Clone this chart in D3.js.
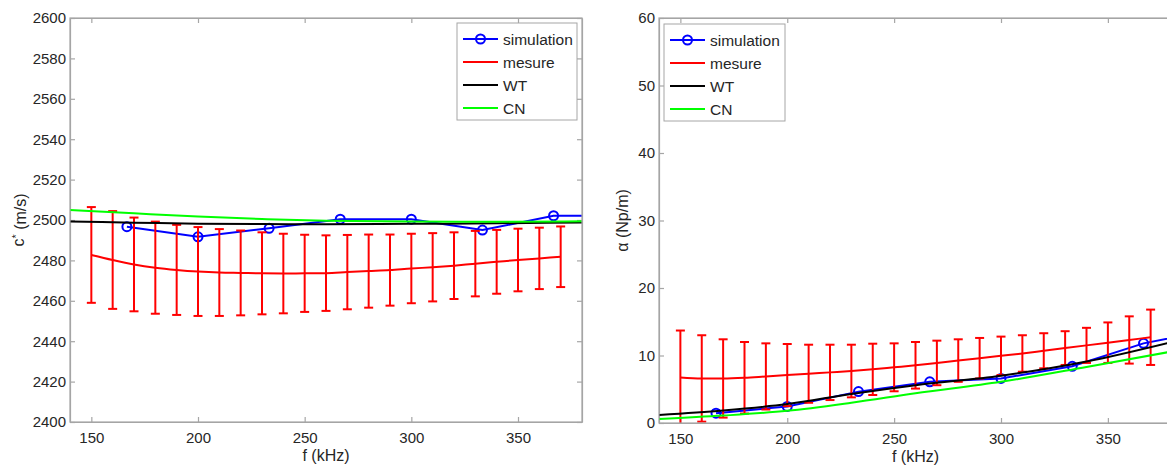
<!DOCTYPE html>
<html><head><meta charset="utf-8">
<script src="https://cdn.jsdelivr.net/npm/d3@7"></script>
<style>
body{margin:0;background:#fff;}
svg{display:block;font-family:"Liberation Sans",Arial,Helvetica,sans-serif;}
</style>
</head><body>
<svg id="chart" width="1167" height="468"></svg>
<script>
// ---------- data ----------
const legendLabels = ["simulation", "mesure", "WT", "CN"];

// simulation frequencies (kHz)
const simFreq = [166.67, 200, 233.33, 266.67, 300, 333.33, 366.67, 400];
const cSim     = [2496.7, 2491.7, 2495.9, 2500.4, 2500.4, 2495.0, 2502.1, 2502.1];
const alphaSim = [1.45, 2.45, 4.65, 6.1, 6.6, 8.4, 11.8, 13.9];

// measurement frequencies (kHz)
const measFreq = [150,160,170,180,190,200,210,220,230,240,250,260,270,280,290,300,310,320,330,340,350,360,370];
const cMeas    = [2482.7,2480.2,2478.0,2476.4,2475.3,2474.5,2474.0,2473.8,2473.6,2473.5,2473.6,2473.7,2474.2,2474.7,2475.2,2476.0,2476.6,2477.4,2478.4,2479.3,2480.2,2481.0,2481.8];
const cMeasErr = [23.7,24.2,23.2,22.8,22.3,22.0,21.5,21.0,20.3,19.7,19.1,18.7,18.4,18.1,17.6,17.2,16.9,16.5,16.2,15.8,15.5,15.2,15.0];
const alphaMeas    = [6.75,6.6,6.6,6.7,6.9,7.1,7.3,7.5,7.7,7.95,8.25,8.55,8.9,9.25,9.6,9.95,10.3,10.7,11.1,11.5,11.9,12.3,12.7];
const alphaMeasErr = [6.95,6.4,5.8,5.3,4.9,4.6,4.3,4.1,3.9,3.8,3.55,3.45,3.3,3.15,3.0,2.85,2.7,2.6,2.5,2.6,3.0,3.5,4.1];

// model curves
const modelFreq  = [140, 170, 200, 230, 260, 300, 340, 380];
const cWT        = [2499.2, 2498.7, 2498.2, 2498.0, 2497.9, 2498.1, 2498.4, 2498.8];
const cCN        = [2505.0, 2503.3, 2501.7, 2500.5, 2499.6, 2499.2, 2499.1, 2499.4];
const alphaWT    = [1.2, 1.85, 2.8, 4.3, 5.6, 7.0, 9.1, 12.0];
const alphaCN    = [0.6, 1.1, 1.8, 3.0, 4.4, 6.1, 8.3, 10.6];

// tick labels
const xTicks = [150, 200, 250, 300, 350];
const cTicks = [2400,2420,2440,2460,2480,2500,2520,2540,2560,2580,2600];
const alphaTicks = [0,10,20,30,40,50,60];

// ---------- drawing ----------
const svg = d3.select("#chart");
const colors = {sim:"#0000ff", meas:"#ff0000", wt:"#000000", cn:"#00ff00"};
const axisColor = "#a6a6a6";
const textColor = "#262626";
const fmt = d3.format("d");

function panel(cfg){
  const g = svg.append("g");
  const x = d3.scaleLinear().domain([140, 380]).range([cfg.left, cfg.right]);
  const y = d3.scaleLinear().domain(cfg.yDomain).range([cfg.bottom, cfg.top]);

  const clipId = "clip" + cfg.id;
  svg.append("defs").append("clipPath").attr("id", clipId)
    .append("rect").attr("x", cfg.left).attr("y", cfg.top)
    .attr("width", cfg.right - cfg.left).attr("height", cfg.bottom - cfg.top);

  // axes
  const styleAxis = sel => {
    sel.selectAll("path.domain").attr("stroke", axisColor).attr("stroke-width", 1.2);
    sel.selectAll(".tick line").attr("stroke", axisColor).attr("stroke-width", 1.2);
    sel.selectAll(".tick text").attr("fill", textColor).style("font-size", "15px")
       .style("font-family", '"Liberation Sans",Arial,sans-serif');
  };
  g.append("g").attr("transform", `translate(0,${cfg.bottom})`)
    .call(d3.axisBottom(x).tickValues(xTicks).tickFormat(fmt).tickSize(-5).tickSizeOuter(0).tickPadding(10))
    .call(styleAxis);
  g.append("g").attr("transform", `translate(0,${cfg.top})`)
    .call(d3.axisTop(x).tickValues(xTicks).tickSize(-5).tickSizeOuter(0).tickFormat(""))
    .call(styleAxis);
  g.append("g").attr("transform", `translate(${cfg.left},0)`)
    .call(d3.axisLeft(y).tickValues(cfg.yTicks).tickFormat(fmt).tickSize(-5).tickSizeOuter(0).tickPadding(4))
    .call(styleAxis);
  g.append("g").attr("transform", `translate(${cfg.right},0)`)
    .call(d3.axisRight(y).tickValues(cfg.yTicks).tickSize(-5).tickSizeOuter(0).tickFormat(""))
    .call(styleAxis);

  const plot = g.append("g").attr("clip-path", `url(#${clipId})`);

  // simulation
  const simData = simFreq.map((f,i)=>({f, v: cfg.sim[i]}));
  plot.append("path").datum(simData)
    .attr("fill","none").attr("stroke",colors.sim).attr("stroke-width",2)
    .attr("d", d3.line().x(d=>x(d.f)).y(d=>y(d.v)));
  plot.selectAll("circle.sim").data(simData).join("circle")
    .attr("class","sim").attr("cx",d=>x(d.f)).attr("cy",d=>y(d.v)).attr("r",4.5)
    .attr("fill","none").attr("stroke",colors.sim).attr("stroke-width",2);

  // measurement with error bars
  const measData = measFreq.map((f,i)=>({f, v: cfg.meas[i], e: cfg.measErr[i]}));
  plot.append("path").datum(measData)
    .attr("fill","none").attr("stroke",colors.meas).attr("stroke-width",2)
    .attr("d", d3.line().curve(d3.curveMonotoneX).x(d=>x(d.f)).y(d=>y(d.v)));
  const eb = plot.append("g").attr("stroke",colors.meas).attr("stroke-width",2).attr("fill","none");
  measData.forEach(d=>{
    const cx = x(d.f), yt = y(d.v + d.e), yb = y(d.v - d.e);
    eb.append("line").attr("x1",cx).attr("x2",cx).attr("y1",yt).attr("y2",yb);
    eb.append("line").attr("x1",cx-4.5).attr("x2",cx+4.5).attr("y1",yt).attr("y2",yt);
    eb.append("line").attr("x1",cx-4.5).attr("x2",cx+4.5).attr("y1",yb).attr("y2",yb);
  });

  // models
  const lineM = d3.line().curve(d3.curveMonotoneX).x(d=>x(d.f)).y(d=>y(d.v));
  plot.append("path").datum(modelFreq.map((f,i)=>({f, v: cfg.wt[i]})))
    .attr("fill","none").attr("stroke",colors.wt).attr("stroke-width",2).attr("d", lineM);
  plot.append("path").datum(modelFreq.map((f,i)=>({f, v: cfg.cn[i]})))
    .attr("fill","none").attr("stroke",colors.cn).attr("stroke-width",2).attr("d", lineM);

  // frame
  g.append("rect").attr("x",cfg.left).attr("y",cfg.top)
    .attr("width",cfg.right-cfg.left).attr("height",cfg.bottom-cfg.top)
    .attr("fill","none").attr("stroke",axisColor).attr("stroke-width",1.2);

  // axis labels
  g.append("text").attr("x",(cfg.left+cfg.right)/2).attr("y",cfg.bottom+39)
    .attr("text-anchor","middle").attr("fill",textColor).style("font-size","16px")
    .text("f (kHz)");
  const yl = g.append("text")
    .attr("transform",`translate(${cfg.yLabelX},${(cfg.top+cfg.bottom)/2}) rotate(-90)`)
    .attr("text-anchor","middle").attr("fill",textColor).style("font-size","16px");
  cfg.yLabel(yl);

  // legend
  const lg = g.append("g").attr("transform",`translate(${cfg.legX},${cfg.legY})`);
  lg.append("rect").attr("x",0).attr("y",0).attr("width",cfg.legW).attr("height",97)
    .attr("fill","#fff").attr("stroke",axisColor).attr("stroke-width",1);
  const legColors = [colors.sim, colors.meas, colors.wt, colors.cn];
  legendLabels.forEach((lab,i)=>{
    const yy = 16 + i*23;
    lg.append("line").attr("x1",6).attr("x2",41).attr("y1",yy).attr("y2",yy)
      .attr("stroke",legColors[i]).attr("stroke-width",2);
    if(i===0) lg.append("circle").attr("cx",23.5).attr("cy",yy).attr("r",4.5)
      .attr("fill","none").attr("stroke",colors.sim).attr("stroke-width",2);
    lg.append("text").attr("x",46).attr("y",yy).attr("dy","0.36em")
      .attr("fill",textColor).style("font-size","15.5px").text(lab);
  });
}

panel({
  id:"L", left:70, right:582, top:18, bottom:422,
  yDomain:[2400,2600], yTicks:cTicks,
  sim:cSim, meas:cMeas, measErr:cMeasErr, wt:cWT, cn:cCN,
  yLabelX:24,
  yLabel: t => { t.append("tspan").text("c");
                 t.append("tspan").attr("dy","-0.4em").style("font-size","11px").text("*");
                 t.append("tspan").attr("dy","0.4em").text(" (m/s)"); },
  legX:457, legY:23, legW:120
});
panel({
  id:"R", left:659, right:1172, top:18, bottom:423,
  yDomain:[0,60], yTicks:alphaTicks,
  sim:alphaSim, meas:alphaMeas, measErr:alphaMeasErr, wt:alphaWT, cn:alphaCN,
  yLabelX:628,
  yLabel: t => { t.text("α (Np/m)"); },
  legX:664, legY:24, legW:121
});
</script>
</body></html>
